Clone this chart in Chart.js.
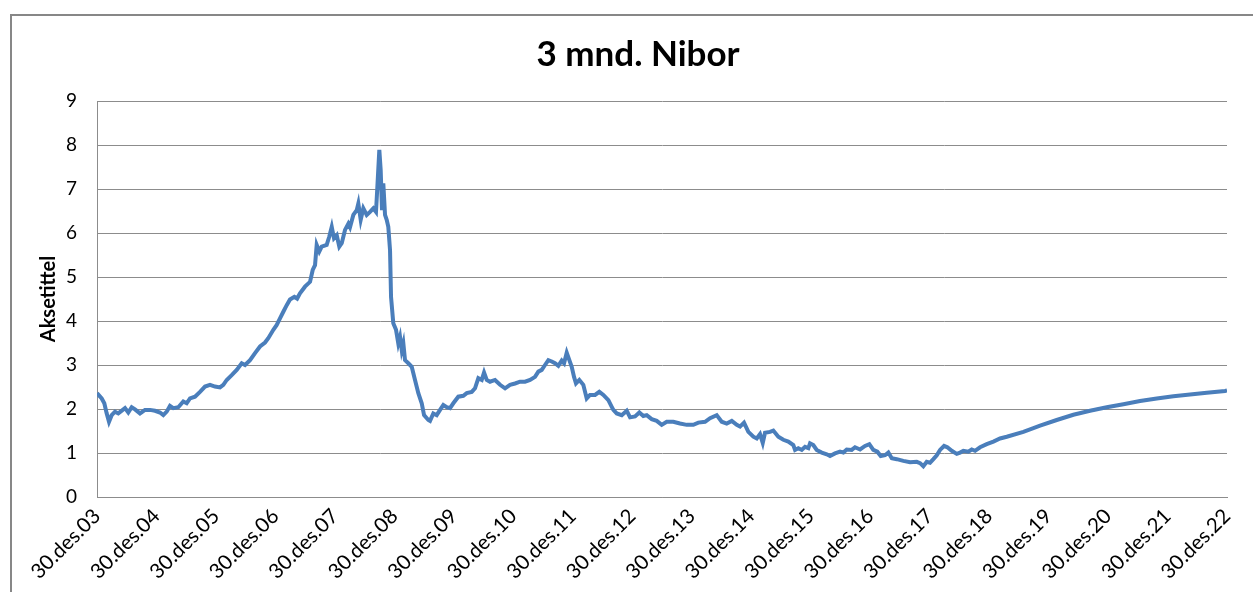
<!DOCTYPE html>
<html><head><meta charset="utf-8">
<script src="https://cdn.jsdelivr.net/npm/chart.js@4.4.1/dist/chart.umd.min.js"></script>
<style>
html,body{margin:0;padding:0;background:#fff;overflow:hidden}
#wrap{position:relative;width:1253px;height:592px;overflow:hidden}
#frame{position:absolute;left:10px;top:14px;width:1400px;height:800px;border-left:2px solid #878787;border-top:2px solid #878787}
canvas{position:absolute;left:0;top:0}
</style></head><body>
<div id="wrap"><div id="frame"></div><canvas id="c" width="1253" height="592" style="width:1253px;height:592px"></canvas></div>
<script>
const chartTitle = '3 mnd. Nibor';
const yAxisTitle = 'Aksetittel';
const xTickLabels = ['30.des.03','30.des.04','30.des.05','30.des.06','30.des.07','30.des.08','30.des.09','30.des.10','30.des.11','30.des.12','30.des.13','30.des.14','30.des.15','30.des.16','30.des.17','30.des.18','30.des.19','30.des.20','30.des.21','30.des.22'];
const yTickValues = [0,1,2,3,4,5,6,7,8,9];
// time in years after 30.des.03
const yearsAfterStart = [
0.000,0.079,0.123,0.163,0.202,0.247,0.303,0.358,0.471,0.526,0.583,0.639,0.723,0.807,0.891,0.975,
1.059,1.115,1.172,1.227,1.283,1.367,1.451,1.508,1.564,1.648,1.732,1.816,1.900,1.984,
2.068,2.124,2.181,2.265,2.349,2.433,2.489,2.573,2.657,2.741,2.825,2.880,2.965,
3.022,3.077,3.133,3.190,3.245,3.318,3.365,3.413,3.497,3.582,3.627,3.666,3.694,3.738,3.778,3.862,3.906,3.947,3.985,
4.031,4.074,4.115,4.170,4.226,4.254,4.310,4.367,4.394,4.434,4.478,4.535,4.591,4.646,4.691,4.713,4.747,4.770,4.792,4.814,4.843,4.871,4.898,4.927,4.944,4.982,
5.028,5.066,5.095,5.124,5.151,5.179,5.235,5.292,5.347,5.403,5.460,5.499,5.571,5.599,5.655,5.712,5.768,5.823,5.880,5.936,5.991,
6.075,6.159,6.217,6.301,6.356,6.412,6.469,6.508,6.553,6.608,6.692,6.777,6.861,6.945,
7.029,7.113,7.197,7.281,7.365,7.421,7.478,7.533,7.589,7.646,7.701,7.757,7.814,7.853,7.898,7.942,7.982,
8.021,8.054,8.110,8.177,8.234,8.290,8.374,8.446,8.514,8.598,8.655,8.682,8.739,8.823,8.907,8.963,
9.047,9.119,9.186,9.243,9.327,9.411,9.495,9.579,9.690,9.803,9.916,
10.027,10.111,10.224,10.308,10.420,10.504,10.588,10.673,10.757,10.812,10.879,10.952,
11.036,11.093,11.148,11.194,11.232,11.316,11.372,11.456,11.540,11.624,11.708,11.737,11.792,11.850,11.905,11.961,11.989,
12.044,12.101,12.186,12.270,12.325,12.409,12.494,12.549,12.606,12.690,12.746,12.830,12.914,12.986,
13.053,13.121,13.178,13.250,13.306,13.363,13.447,13.558,13.671,13.783,13.839,13.894,13.951,
14.007,14.063,14.120,14.175,14.243,14.298,14.372,14.456,14.512,14.567,14.651,14.708,14.764,14.848,14.960,
15.072,15.184,15.297,15.576,15.857,16.137,16.417,16.697,16.978,17.258,17.538,17.819,18.099,18.379,18.660,18.967,19.000
];
const niborRate = [
2.36,2.24,2.13,1.90,1.71,1.86,1.94,1.90,2.02,1.92,2.04,1.99,1.90,1.98,1.98,1.96,
1.92,1.86,1.94,2.07,2.02,2.04,2.17,2.13,2.24,2.28,2.39,2.51,2.55,2.51,
2.49,2.55,2.66,2.77,2.89,3.04,3.00,3.11,3.27,3.42,3.51,3.61,3.80,
3.91,4.06,4.21,4.36,4.49,4.55,4.51,4.63,4.78,4.89,5.16,5.27,5.73,5.58,5.69,5.73,5.92,6.14,5.88,
5.95,5.69,5.77,6.07,6.21,6.13,6.41,6.52,6.67,6.30,6.56,6.41,6.48,6.56,6.48,7.02,7.89,7.43,6.52,7.13,6.41,6.30,6.14,5.61,4.55,3.95,
3.80,3.49,3.64,3.34,3.49,3.11,3.04,2.96,2.66,2.36,2.13,1.86,1.75,1.73,1.90,1.86,1.98,2.09,2.04,2.02,2.13,
2.28,2.30,2.36,2.39,2.47,2.70,2.66,2.83,2.66,2.62,2.66,2.55,2.47,2.55,
2.58,2.62,2.62,2.66,2.73,2.85,2.89,3.00,3.11,3.08,3.04,2.98,3.10,3.04,3.28,3.11,2.96,
2.73,2.58,2.66,2.55,2.24,2.32,2.32,2.39,2.32,2.20,2.05,1.98,1.90,1.86,1.96,1.81,
1.83,1.92,1.84,1.86,1.77,1.73,1.64,1.71,1.71,1.67,1.64,
1.64,1.69,1.71,1.79,1.86,1.71,1.67,1.73,1.64,1.60,1.69,1.48,
1.37,1.33,1.43,1.23,1.46,1.48,1.51,1.37,1.30,1.26,1.18,1.07,1.11,1.07,1.14,1.11,1.22,
1.18,1.07,1.01,0.97,0.93,0.99,1.03,1.01,1.08,1.07,1.13,1.08,1.16,1.20,
1.07,1.03,0.93,0.95,1.01,0.88,0.86,0.82,0.79,0.80,0.77,0.70,0.80,
0.78,0.86,0.95,1.07,1.16,1.13,1.05,0.98,1.01,1.05,1.03,1.08,1.05,1.13,1.20,
1.26,1.33,1.37,1.48,1.62,1.75,1.87,1.96,2.04,2.11,2.18,2.24,2.29,2.33,2.37,2.41,2.42
];

const points = yearsAfterStart.map((x, i) => ({x, y: niborRate[i]}));
const FONT = 'Lato, "Open Sans", sans-serif';
const GRID = '#8c8c8c';

// Title centred over the outer chart frame (like the spreadsheet chart object)
const frameTitle = {
  id: 'frameTitle',
  afterDraw(chart) {
    const ctx = chart.ctx;
    ctx.save();
    ctx.font = 'bold 35px ' + FONT;
    ctx.fillStyle = '#000';
    ctx.textAlign = 'center';
    ctx.textBaseline = 'middle';
    ctx.fillText(chartTitle, 638, 55);
    ctx.restore();
  }
};

new Chart(document.getElementById('c'), {
  type: 'line',
  data: { datasets: [{
    data: points,
    borderColor: '#4a7ebb',
    borderWidth: 4,
    pointRadius: 0,
    tension: 0,
    fill: false
  }]},
  options: {
    responsive: false,
    animation: false,
    devicePixelRatio: 1,
    layout: { padding: { left: 0, right: 26, top: 101, bottom: 0 } },
    plugins: {
      legend: { display: false },
      tooltip: { enabled: false },
      title: { display: false }
    },
    scales: {
      x: {
        type: 'linear',
        min: 0,
        max: xTickLabels.length - 1,
        afterBuildTicks: s => { s.ticks = xTickLabels.map((_, i) => ({ value: i })); },
        afterFit: s => { s.height = 95; },
        grid: { display: false, drawTicks: false },
        border: { display: true, color: GRID, width: 1 },
        ticks: {
          autoSkip: false,
          minRotation: 45,
          maxRotation: 45,
          padding: 7,
          color: '#000',
          font: { family: FONT, size: 20.5 },
          callback: v => xTickLabels[v]
        }
      },
      y: {
        min: 0,
        max: 9,
        afterBuildTicks: s => { s.ticks = yTickValues.map(v => ({ value: v })); },
        afterFit: s => { s.width = 97; },
        grid: { color: GRID, lineWidth: 1, drawTicks: false },
        border: { display: true, color: GRID, width: 1 },
        ticks: {
          padding: 20,
          color: '#000',
          font: { family: FONT, size: 19 }
        },
        title: {
          display: true,
          text: yAxisTitle,
          color: '#000',
          font: { family: FONT, size: 20, weight: 'bold' },
          padding: { top: 37, bottom: 0 }
        }
      }
    }
  },
  plugins: [frameTitle]
});
</script>
</body></html>
